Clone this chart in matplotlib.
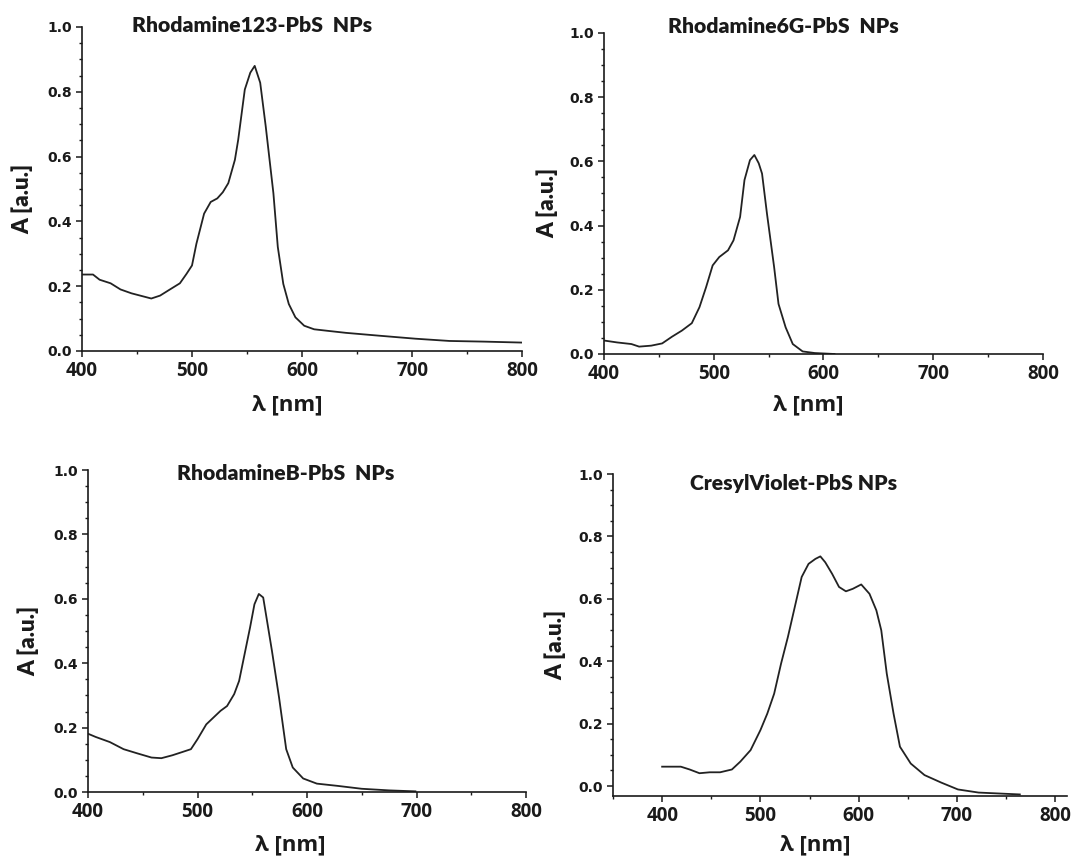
import matplotlib
matplotlib.use("Agg")
import matplotlib.pyplot as plt
from matplotlib.ticker import MultipleLocator

# ---------------- data ----------------
titles = ["Rhodamine123-PbS  NPs", "Rhodamine6G-PbS  NPs",
          "RhodamineB-PbS  NPs", "CresylViolet-PbS NPs"]
xticks = [400, 500, 600, 700, 800]
yticks = [0.0, 0.2, 0.4, 0.6, 0.8, 1.0]

wl1 = [400, 410, 416, 426, 435, 445, 454, 463, 471, 479, 489, 495, 500, 504, 511, 517,
       523, 528, 533, 539, 542, 548, 553, 557, 562, 567, 574, 578, 583, 588, 594, 602,
       611, 624, 640, 671, 703, 734, 765, 800]
a1 = [0.236, 0.236, 0.220, 0.209, 0.190, 0.178, 0.170, 0.162, 0.171, 0.188, 0.209, 0.238,
      0.264, 0.331, 0.424, 0.460, 0.471, 0.490, 0.518, 0.590, 0.652, 0.807, 0.859, 0.880,
      0.828, 0.694, 0.487, 0.321, 0.207, 0.145, 0.104, 0.078, 0.067, 0.062, 0.056, 0.047,
      0.038, 0.031, 0.029, 0.026]

wl2 = [400, 412, 425, 432, 443, 453, 462, 471, 480, 487, 493, 499, 505, 513, 518, 524,
       528, 533, 537, 541, 544, 548.5, 555, 559, 565.5, 572, 581, 592, 610]
a2 = [0.042, 0.036, 0.031, 0.023, 0.026, 0.033, 0.054, 0.073, 0.096, 0.146, 0.208, 0.276,
      0.302, 0.323, 0.354, 0.427, 0.542, 0.604, 0.620, 0.594, 0.562, 0.437, 0.271, 0.156,
      0.083, 0.031, 0.008, 0.003, 0.000]

wl3 = [400, 407, 420, 432.5, 445, 458, 467, 477, 486, 494, 500, 508, 514.5, 521, 527,
       533.5, 538, 543, 548, 552, 556, 560, 563, 568, 574.5, 581, 587, 596.5, 609, 628,
       650, 675, 699]
a3 = [0.181, 0.171, 0.155, 0.133, 0.120, 0.107, 0.105, 0.114, 0.124, 0.133, 0.164, 0.210,
      0.231, 0.252, 0.267, 0.304, 0.345, 0.428, 0.511, 0.583, 0.615, 0.604, 0.542, 0.438,
      0.293, 0.133, 0.076, 0.042, 0.026, 0.019, 0.010, 0.005, 0.002]

wl4 = [400, 419, 428, 438, 448.5, 459, 471, 479.5, 490, 500, 507, 514, 521, 528, 535,
       542, 549, 556, 561, 566, 573, 580, 587, 594, 602.6, 611, 618, 623, 628.6, 635.5,
       642, 653, 667, 684, 701, 722, 764]
a4 = [0.062, 0.062, 0.053, 0.041, 0.044, 0.044, 0.053, 0.078, 0.115, 0.179, 0.232, 0.296,
      0.392, 0.478, 0.574, 0.670, 0.712, 0.728, 0.736, 0.717, 0.680, 0.638, 0.624, 0.632,
      0.646, 0.616, 0.563, 0.499, 0.360, 0.232, 0.126, 0.072, 0.035, 0.011, -0.011,
      -0.021, -0.027]

series = [(wl1, a1), (wl2, a2), (wl3, a3), (wl4, a4)]

# ---------------- layout ----------------
W, H = 1073, 861
fig = plt.figure(figsize=(W / 100, H / 100), dpi=100)

# pixel boxes: left, right, top, bottom
boxes = [(82, 522, 27, 351), (604, 1043, 33, 354), (88, 526, 470, 792), (613, 1067, 474, 796)]
xlims = [(400, 800), (400, 800), (400, 800), (350, 812)]
ylims = [(0, 1.0), (0, 1.0), (0, 1.0), (-0.032, 1.0)]
title_pos = [(0.386, 1.005), (0.408, 1.02), (0.452, 0.99), (0.397, 0.969)]
ylab_x = [-0.136, -0.128, -0.137, -0.126]
xlab_pos = [(0.466, -0.167), (0.465, -0.159), (0.461, -0.165), (0.445, -0.152)]

label_font = ['Lato', 'DejaVu Sans']
ink = '#1a1a1a'

for i, ((wl, a), (l, r, t, b)) in enumerate(zip(series, boxes)):
    ax = fig.add_axes([l / W, 1 - b / H, (r - l) / W, (b - t) / H])
    ax.plot(wl, a, color='#222222', lw=1.3, solid_joinstyle='round')
    ax.set_xlim(*xlims[i])
    ax.set_ylim(*ylims[i])
    for s in ['top', 'right']:
        ax.spines[s].set_visible(False)
    for s in ['left', 'bottom']:
        ax.spines[s].set_linewidth(1.2)
        ax.spines[s].set_color(ink)
    ax.set_xticks(xticks)
    ax.set_yticks(yticks)
    ax.xaxis.set_minor_locator(MultipleLocator(50))
    ax.yaxis.set_minor_locator(MultipleLocator(0.05))
    ax.set_yticklabels([f"{v:.1f}" for v in yticks], fontsize=10, fontweight='bold',
                       family='DejaVu Sans', color=ink)
    ax.set_xticklabels([str(v) for v in xticks], fontsize=13.5, fontweight='bold',
                       family='Open Sans', color=ink)
    ax.tick_params(axis='both', which='major', direction='out', length=4, width=1.1,
                   colors=ink, pad=3)
    ax.tick_params(axis='both', which='minor', direction='out', length=2.5, width=1.0,
                   colors=ink)
    ax.text(title_pos[i][0], title_pos[i][1], titles[i], transform=ax.transAxes,
            ha='center', va='center', fontsize=15.2, fontweight='heavy',
            family=label_font, color=ink)
    ax.text(ylab_x[i], 0.47, 'A [a.u.]', transform=ax.transAxes, rotation=90,
            ha='center', va='center', fontsize=16, fontweight='heavy',
            family=label_font, color=ink)
    ax.text(xlab_pos[i][0], xlab_pos[i][1], 'λ [nm]', transform=ax.transAxes,
            ha='center', va='center', fontsize=16, fontweight='bold',
            family=['Open Sans', 'DejaVu Sans'], color=ink)

fig.savefig('out.png', dpi=100)
